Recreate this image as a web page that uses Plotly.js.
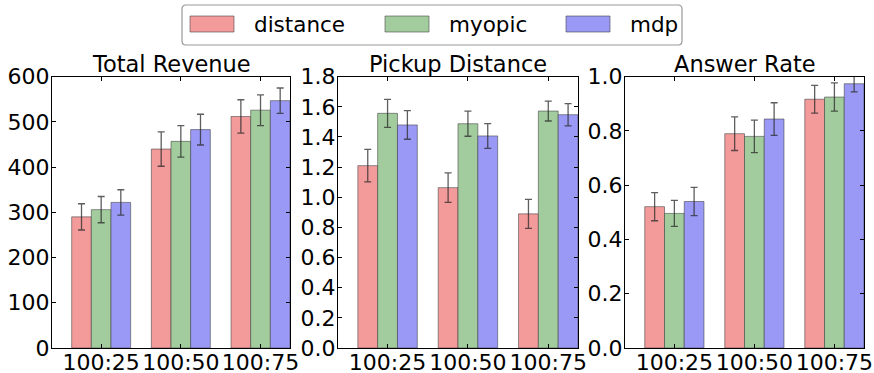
<!DOCTYPE html>
<html>
<head>
<meta charset="utf-8">
<script src="https://cdn.plot.ly/plotly-3.0.1.min.js"></script>
<style>html,body{margin:0;padding:0;background:#fff;}#chart{width:874px;height:373px;}</style>
</head>
<body>
<div id="chart"></div>
<script>
const categories = ["100:25", "100:50", "100:75"];
const seriesNames = ["distance", "myopic", "mdp"];
const panelTitles = ["Total Revenue", "Pickup Distance", "Answer Rate"];

// Total Revenue
const revDistance = [290, 440, 512];
const revMyopic   = [306, 457, 526];
const revMdp      = [322, 483, 547];
const revDistanceErr = [29, 38, 37];
const revMyopicErr   = [29, 35, 34];
const revMdpErr      = [28, 34, 28];

// Pickup Distance
const pickDistance = [1.21, 1.064, 0.890];
const pickMyopic   = [1.557, 1.488, 1.572];
const pickMdp      = [1.480, 1.407, 1.548];
const pickDistanceErr = [0.108, 0.098, 0.096];
const pickMyopicErr   = [0.093, 0.083, 0.066];
const pickMdpErr      = [0.095, 0.082, 0.074];

// Answer Rate
const ansDistance = [0.521, 0.790, 0.917];
const ansMyopic   = [0.496, 0.780, 0.925];
const ansMdp      = [0.540, 0.844, 0.974];
const ansDistanceErr = [0.052, 0.062, 0.051];
const ansMyopicErr   = [0.048, 0.060, 0.052];
const ansMdpErr      = [0.052, 0.060, 0.030];

const colors = ["#f39b9b", "#a3cc9e", "#9a9af6"];
const FONT = "DejaVu Sans, sans-serif";

const panels = [
  {vals:[revDistance, revMyopic, revMdp], errs:[revDistanceErr, revMyopicErr, revMdpErr]},
  {vals:[pickDistance, pickMyopic, pickMdp], errs:[pickDistanceErr, pickMyopicErr, pickMdpErr]},
  {vals:[ansDistance, ansMyopic, ansMdp], errs:[ansDistanceErr, ansMyopicErr, ansMdpErr]}
];

const traces = [];
panels.forEach((p, pi) => {
  const sfx = pi === 0 ? "" : String(pi + 1);
  p.vals.forEach((v, si) => {
    traces.push({
      type: "bar",
      x: categories,
      y: v,
      name: seriesNames[si],
      xaxis: "x" + sfx,
      yaxis: "y" + sfx,
      showlegend: false,
      marker: {color: colors[si], line: {color: "rgba(60,60,60,0.55)", width: 1}},
      error_y: {type: "data", array: p.errs[si], visible: true, color: "rgba(40,40,40,0.75)", thickness: 1.3, width: 3.5}
    });
  });
});

const W = 874, H = 373;
const xDomains = [[52, 290], [338, 578], [625, 864]];
const yTop = 76.7, yBot = 348;
const yRanges = [[0, 600], [0, 1.8], [0, 1.0]];
const yDtick = [100, 0.2, 0.2];
const yFormat = ["d", ".1f", ".1f"];

const layout = {
  width: W, height: H,
  margin: {l: 0, r: 0, t: 0, b: 0},
  paper_bgcolor: "#fff", plot_bgcolor: "#fff",
  font: {family: FONT, size: 22, color: "#000"},
  barmode: "group", bargap: 0.26, bargroupgap: 0,
  shapes: [], annotations: []
};

for (let i = 0; i < 3; i++) {
  const sfx = i === 0 ? "" : String(i + 1);
  layout["xaxis" + sfx] = {
    domain: [xDomains[i][0] / W, xDomains[i][1] / W],
    anchor: "y" + sfx,
    type: "category",
    range: [-0.617, 2.37],
    showline: true, linecolor: "#000", linewidth: 1, mirror: "ticks",
    ticks: "inside", ticklen: 4, tickcolor: "#000",
    ticklabelstandoff: -5,
    showgrid: false, zeroline: false,
    tickfont: {family: FONT, size: 22, color: "#000"}
  };
  layout["yaxis" + sfx] = {
    domain: [1 - yBot / H, 1 - yTop / H],
    anchor: "x" + sfx,
    range: yRanges[i], dtick: yDtick[i], tick0: 0, tickformat: yFormat[i],
    showline: true, linecolor: "#000", linewidth: 1, mirror: "ticks",
    ticks: "inside", ticklen: 4, tickcolor: "#000",
    ticklabelstandoff: -3,
    showgrid: false, zeroline: false,
    tickfont: {family: FONT, size: 22, color: "#000"}
  };
  layout.annotations.push({
    text: panelTitles[i], xref: "paper", yref: "paper",
    x: (xDomains[i][0] + xDomains[i][1]) / 2 / W, y: 1 - 64 / H,
    xanchor: "center", yanchor: "middle", showarrow: false,
    font: {family: FONT, size: 22.5, color: "#000"}
  });
}

// Legend box (drawn manually)
const lx0 = 182, lx1 = 682, ly0 = 5, ly1 = 45, rr = 4;
const px = v => v / W, py = v => 1 - v / H;
layout.shapes.push({
  type: "path", xref: "paper", yref: "paper",
  path: `M ${px(lx0+rr)} ${py(ly0)} L ${px(lx1-rr)} ${py(ly0)} Q ${px(lx1)} ${py(ly0)} ${px(lx1)} ${py(ly0+rr)} L ${px(lx1)} ${py(ly1-rr)} Q ${px(lx1)} ${py(ly1)} ${px(lx1-rr)} ${py(ly1)} L ${px(lx0+rr)} ${py(ly1)} Q ${px(lx0)} ${py(ly1)} ${px(lx0)} ${py(ly1-rr)} L ${px(lx0)} ${py(ly0+rr)} Q ${px(lx0)} ${py(ly0)} ${px(lx0+rr)} ${py(ly0)} Z`,
  line: {color: "#9a9a9a", width: 1.2}, fillcolor: "#fff"
});
const swatchX = [190, 385, 566];
const textX = [252, 447, 628];
for (let s = 0; s < 3; s++) {
  layout.shapes.push({
    type: "rect", xref: "paper", yref: "paper",
    x0: px(swatchX[s]), x1: px(swatchX[s] + 44), y0: py(32), y1: py(16),
    fillcolor: colors[s], line: {color: "rgba(60,60,60,0.55)", width: 1}
  });
  layout.annotations.push({
    text: seriesNames[s], xref: "paper", yref: "paper",
    x: px(textX[s]), y: py(24), xanchor: "left", yanchor: "middle",
    showarrow: false, font: {family: FONT, size: 21.5, color: "#000"}
  });
}

Plotly.newPlot("chart", traces, layout, {staticPlot: true, displayModeBar: false});
</script>
</body>
</html>
